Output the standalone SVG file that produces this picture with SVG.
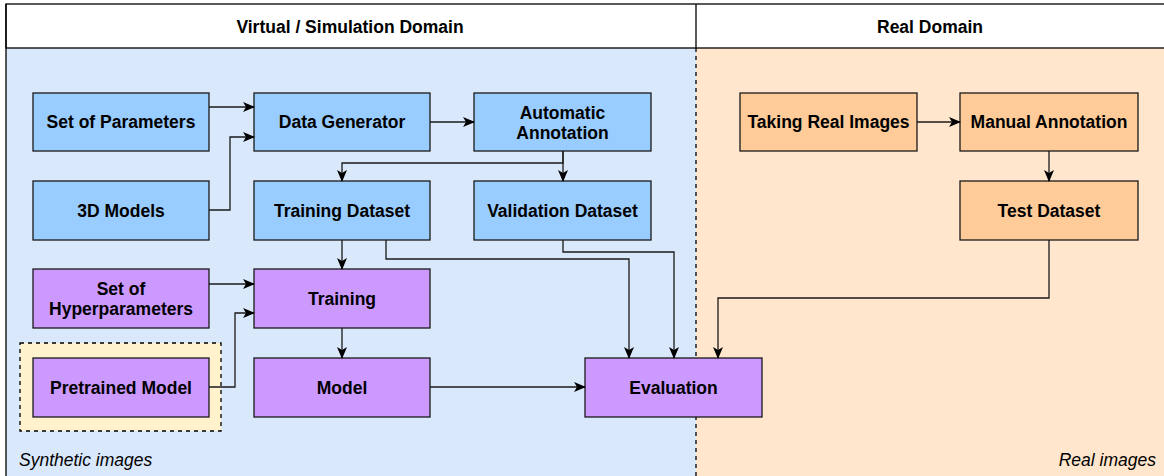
<svg xmlns="http://www.w3.org/2000/svg" width="1164" height="476" viewBox="0 0 1164 476">
<defs>
<style>
.hdr{fill:#fff;stroke:#000;stroke-width:1.3}
.blue{fill:#99ccff;stroke:#1a1a1a;stroke-width:1.3}
.purple{fill:#cc99ff;stroke:#1a1a1a;stroke-width:1.3}
.orange{fill:#ffcc99;stroke:#1a1a1a;stroke-width:1.3}
.t{font-family:"Liberation Sans",Arial,sans-serif;font-size:17.5px;font-weight:bold;fill:#000;text-anchor:middle}
.it{font-family:"Liberation Sans",Arial,sans-serif;font-size:17.5px;font-style:italic;fill:#000}
.c{fill:none;stroke:#1a1a1a;stroke-width:1.3}
</style>
<marker id="arr" viewBox="0 0 12 10" refX="11" refY="5" markerWidth="12" markerHeight="10" markerUnits="userSpaceOnUse" orient="auto">
<path d="M0,0 L12,5 L0,10 L3,5 z" fill="#000"/>
</marker>
</defs>
<g id="lanes">
<rect x="6" y="48" width="690" height="440" fill="#dae8fc"/>
<rect x="696" y="48" width="480" height="440" fill="#ffe6cc"/>
<rect x="6" y="4" width="1170" height="44" class="hdr"/>
<line x1="6" y1="4" x2="6" y2="480" stroke="#000" stroke-width="1.3"/>
<line x1="696" y1="4" x2="696" y2="48" stroke="#000" stroke-width="1.3"/>
<line x1="696" y1="48" x2="696" y2="480" stroke="#000" stroke-width="1.3" stroke-dasharray="4,4"/>
<text class="t" x="350" y="33">Virtual / Simulation Domain</text>
<text class="t" x="930" y="33">Real Domain</text>
<text class="it" x="19" y="466">Synthetic images</text>
<text class="it" x="1156" y="466" text-anchor="end">Real images</text>
</g>
<g id="pretrained-container">
<rect x="20" y="343" width="201" height="88" fill="#fff2cc" stroke="#000" stroke-width="1.3" stroke-dasharray="4,4"/>
</g>
<g id="set-of-parameters"><rect class="blue" x="33" y="93" width="176" height="58"/><text class="t" x="121" y="128">Set of Parameters</text></g>
<g id="data-generator"><rect class="blue" x="254" y="93" width="176" height="58"/><text class="t" x="342" y="128">Data Generator</text></g>
<g id="automatic-annotation"><rect class="blue" x="474" y="93" width="177" height="58"/><text class="t" x="562.5" y="119">Automatic</text><text class="t" x="562.5" y="139">Annotation</text></g>
<g id="3d-models"><rect class="blue" x="33" y="181" width="176" height="59"/><text class="t" x="121" y="217">3D Models</text></g>
<g id="training-dataset"><rect class="blue" x="254" y="181" width="176" height="59"/><text class="t" x="342" y="217">Training Dataset</text></g>
<g id="validation-dataset"><rect class="blue" x="474" y="181" width="177" height="59"/><text class="t" x="562.5" y="217">Validation Dataset</text></g>
<g id="set-of-hyperparameters"><rect class="purple" x="33" y="269" width="176" height="59"/><text class="t" x="121" y="295">Set of</text><text class="t" x="121" y="315">Hyperparameters</text></g>
<g id="training"><rect class="purple" x="254" y="269" width="176" height="59"/><text class="t" x="342" y="305">Training</text></g>
<g id="pretrained-model"><rect class="purple" x="33" y="358" width="176" height="59"/><text class="t" x="121" y="394">Pretrained Model</text></g>
<g id="model"><rect class="purple" x="254" y="358" width="176" height="59"/><text class="t" x="342" y="394">Model</text></g>
<g id="evaluation"><rect class="purple" x="585" y="358" width="177" height="59"/><text class="t" x="673.5" y="394">Evaluation</text></g>
<g id="taking-real-images"><rect class="orange" x="740" y="93" width="177" height="58"/><text class="t" x="828.5" y="128">Taking Real Images</text></g>
<g id="manual-annotation"><rect class="orange" x="960" y="93" width="178" height="58"/><text class="t" x="1049" y="128">Manual Annotation</text></g>
<g id="test-dataset"><rect class="orange" x="960" y="181" width="178" height="59"/><text class="t" x="1049" y="217">Test Dataset</text></g>
<g id="connectors">
<path class="c" d="M209,107 H254" marker-end="url(#arr)"/>
<path class="c" d="M209,210 H230 V137 H254" marker-end="url(#arr)"/>
<path class="c" d="M430,122 H474" marker-end="url(#arr)"/>
<path class="c" d="M563,151 V163 H342 V181" marker-end="url(#arr)"/>
<path class="c" d="M563,151 V181" marker-end="url(#arr)"/>
<path class="c" d="M342,240 V269" marker-end="url(#arr)"/>
<path class="c" d="M386,240 V259 H629 V358" marker-end="url(#arr)"/>
<path class="c" d="M563,240 V252 H674 V358" marker-end="url(#arr)"/>
<path class="c" d="M1049,240 V298 H718 V358" marker-end="url(#arr)"/>
<path class="c" d="M209,284 H254" marker-end="url(#arr)"/>
<path class="c" d="M209,387 H235 V313 H254" marker-end="url(#arr)"/>
<path class="c" d="M342,328 V358" marker-end="url(#arr)"/>
<path class="c" d="M430,387 H585" marker-end="url(#arr)"/>
<path class="c" d="M917,122 H960" marker-end="url(#arr)"/>
<path class="c" d="M1049,151 V181" marker-end="url(#arr)"/>
</g>
</svg>
